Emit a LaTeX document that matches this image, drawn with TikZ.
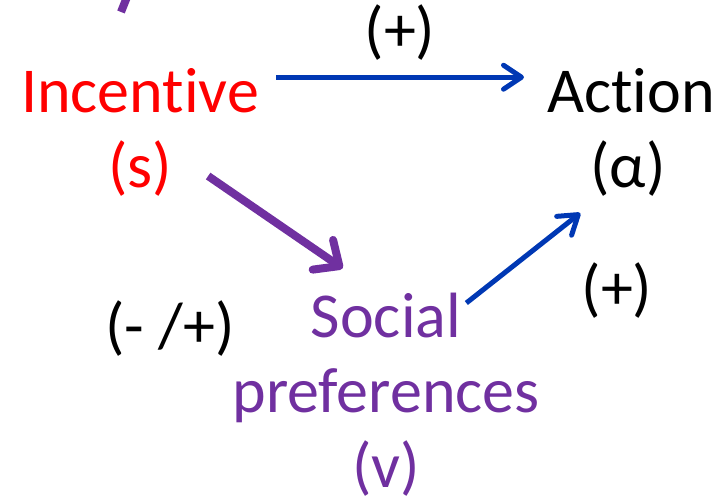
\documentclass[tikz,border=0pt]{standalone}
\usepackage{fontspec}
\setmainfont{Carlito}[Ligatures=NoCommon]
\usetikzlibrary{arrows.meta, positioning, calc}
\definecolor{ppurple}{HTML}{7030A0}
\definecolor{pblue}{HTML}{0038B4}

\begin{document}
\begin{tikzpicture}[
        x=1pt, y=-1pt,
        lbl/.style={inner sep=0pt, anchor=base, font=\fontsize{64}{76}\selectfont},
        barrow/.style={draw=pblue, line width=5pt, -{Straight Barb[length=18pt, width=24pt, round]}},
        parrow/.style={draw=ppurple, line width=8pt, -{Straight Barb[length=20pt, width=36pt, round]}}
    ]
        \useasboundingbox (0,0) rectangle (726,502);
        %=================== incentive ===================
        \node[lbl, text=red] (inc) at (140,113) {Incentive};
        \node[lbl, text=red] (sv) at (140,188) {(s)};
        %=================== action ===================
        \node[lbl] (act) at (631,113) {Action};
        \node[lbl] (alpha) at (628,188) {(α)};
        %=================== social preferences ===================
        \node[lbl, text=ppurple] (soc) at (386,338) {Social};
        \node[lbl, text=ppurple] (pref) at (386,413) {preferences};
        \node[lbl, text=ppurple] (vv) at (386,488) {(v)};
        % signs
        \node[lbl] (plusa) at (400,52) {(+)};
        \node[lbl] (plusb) at (617,310) {(+)};
        \node[lbl] (mixed) at (170,348) {(- /+)};

        % arrows
        \draw[barrow] ([shift={(17,-14)}]inc.east) -- ([shift={(-23,-14)}]act.west);
        \draw[parrow] ([shift={(36,7)}]sv.east) -- ([shift={(32,-25)}]soc.north west);
        \draw[barrow] ([shift={(5,-13)}]soc.east) -- ([shift={(-10,16)}]alpha.south west);
        % cut stroke at the top
        \coordinate (topa) at (127,-3);
        \coordinate (topb) at (121,12);
        \draw[ppurple, line width=8pt] (topa) -- (topb);
    \end{tikzpicture}
\end{document}
